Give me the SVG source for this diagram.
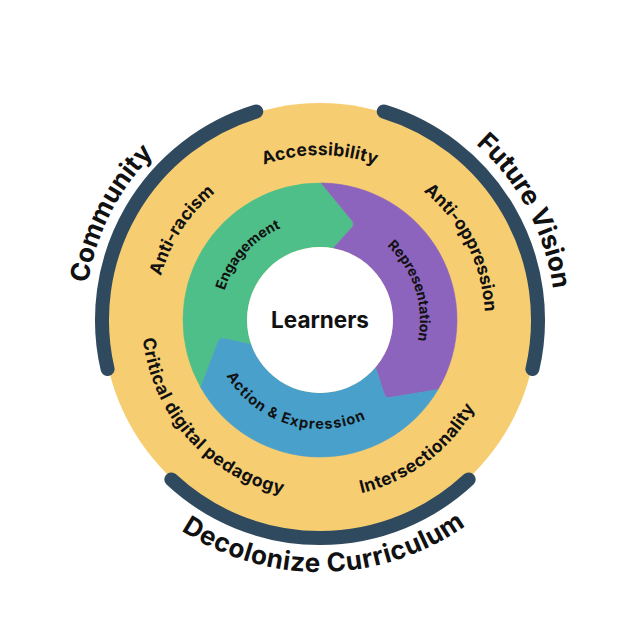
<svg xmlns="http://www.w3.org/2000/svg" xmlns:xlink="http://www.w3.org/1999/xlink" width="640" height="640" viewBox="0 0 640 640">
  <style>
    .lbl { font-family: Inter, "Noto Sans", "Liberation Sans", sans-serif; font-weight: 700; fill: #111111; }
    .outer { font-size: 26px; }
    .mid { font-size: 17.5px; }
    .inner { font-size: 14px; }
    .band { stroke: #2F4A5E; stroke-width: 14; stroke-linecap: round; fill: none; }
  </style>
  <defs>
    <path id="cw235" d="M 85 320 A 235 235 0 0 1 555 320"/>
    <path id="cw165" d="M 155 320 A 165 165 0 0 1 485 320"/>
    <path id="cw100" d="M 220 320 A 100 100 0 0 1 420 320"/>
    <path id="ccw252" d="M 68 320 A 252 252 0 0 0 572 320"/>
    <path id="ccw178" d="M 142 320 A 178 178 0 0 0 498 320"/>
    <path id="ccw109" d="M 211 320 A 109 109 0 0 0 429 320"/>
  </defs>
  <rect width="640" height="640" fill="#FFFFFF"/>

  <g id="outer-ring">
    <circle cx="320" cy="320" r="217" fill="#F7CD71"/>
  </g>

  <g id="community">
    <path class="band" d="M 107.58 369.05 A 218 218 0 0 1 256.26 111.53"/>
    <text class="lbl outer" transform="rotate(-63 320 320)"><textPath xlink:href="#cw235" href="#cw235" startOffset="50%" text-anchor="middle">Community</textPath></text>
  </g>

  <g id="future-vision">
    <path class="band" d="M 383.74 111.53 A 218 218 0 0 1 532.42 369.05"/>
    <text class="lbl outer" transform="rotate(62 320 320)"><textPath xlink:href="#cw235" href="#cw235" startOffset="50%" text-anchor="middle">Future Vision</textPath></text>
  </g>

  <g id="decolonize-curriculum">
    <path class="band" d="M 468.68 479.44 A 218 218 0 0 1 171.32 479.44"/>
    <text class="lbl outer" letter-spacing="0.6" transform="rotate(-1 320 320)"><textPath xlink:href="#ccw252" href="#ccw252" startOffset="50%" text-anchor="middle">Decolonize Curriculum</textPath></text>
  </g>

  <g id="accessibility">
    <text class="lbl mid" letter-spacing="0.3"><textPath xlink:href="#cw165" href="#cw165" startOffset="50%" text-anchor="middle">Accessibility</textPath></text>
  </g>
  <g id="anti-oppression">
    <text class="lbl mid" transform="rotate(63 320 320)"><textPath xlink:href="#cw165" href="#cw165" startOffset="50%" text-anchor="middle">Anti-oppression</textPath></text>
  </g>
  <g id="intersectionality">
    <text class="lbl mid" letter-spacing="0.4" transform="rotate(-37 320 320)"><textPath xlink:href="#ccw178" href="#ccw178" startOffset="50%" text-anchor="middle">Intersectionality</textPath></text>
  </g>
  <g id="critical-digital-pedagogy">
    <text class="lbl mid" letter-spacing="0.6" transform="rotate(48 320 320)"><textPath xlink:href="#ccw178" href="#ccw178" startOffset="50%" text-anchor="middle">Critical digital pedagogy</textPath></text>
  </g>
  <g id="anti-racism">
    <text class="lbl mid" transform="rotate(-57 320 320)"><textPath xlink:href="#cw165" href="#cw165" startOffset="50%" text-anchor="middle">Anti-racism</textPath></text>
  </g>

  <g id="engagement">
    <path d="M 200.76 387.46 A 137 137 0 0 1 321.20 183.00 L 352.35 221.05 Q 354.88 224.15 352.21 227.13 L 333.30 248.22 A 73 73 0 0 0 251.19 344.37 L 223.47 338.54 Q 219.55 337.71 218.13 341.46 Z" fill="#4FBF89" stroke="#4FBF89" stroke-width="0.6" stroke-linejoin="round"/>
    <text class="lbl inner" transform="rotate(-48 320 320)"><textPath xlink:href="#cw100" href="#cw100" startOffset="50%" text-anchor="middle">Engagement</textPath></text>
  </g>
  <g id="representation">
    <path d="M 321.20 183.00 A 137 137 0 0 1 438.04 389.53 L 389.52 397.49 Q 385.56 398.14 384.32 394.33 L 375.51 367.41 A 73 73 0 0 0 333.30 248.22 L 352.21 227.13 Q 354.88 224.15 352.35 221.05 Z" fill="#8C63BD" stroke="#8C63BD" stroke-width="0.6" stroke-linejoin="round"/>
    <text class="lbl inner" transform="rotate(72 320 320)"><textPath xlink:href="#cw100" href="#cw100" startOffset="50%" text-anchor="middle">Representation</textPath></text>
  </g>
  <g id="action-expression">
    <path d="M 438.04 389.53 A 137 137 0 0 1 200.76 387.46 L 218.13 341.46 Q 219.55 337.71 223.47 338.54 L 251.19 344.37 A 73 73 0 0 0 375.51 367.41 L 384.32 394.33 Q 385.56 398.14 389.52 397.49 Z" fill="#48A0CB" stroke="#48A0CB" stroke-width="0.6" stroke-linejoin="round"/>
    <text class="lbl" font-size="14.5" letter-spacing="1" transform="rotate(17 320 320)"><textPath xlink:href="#ccw109" href="#ccw109" startOffset="50%" text-anchor="middle">Action &amp; Expression</textPath></text>
  </g>

  <g id="learners">
    <circle cx="320" cy="320" r="73" fill="#FFFFFF"/>
    <text class="lbl" x="320" y="328" font-size="22.5" text-anchor="middle">Learners</text>
  </g>

  <g id="connectors"></g>
</svg>
